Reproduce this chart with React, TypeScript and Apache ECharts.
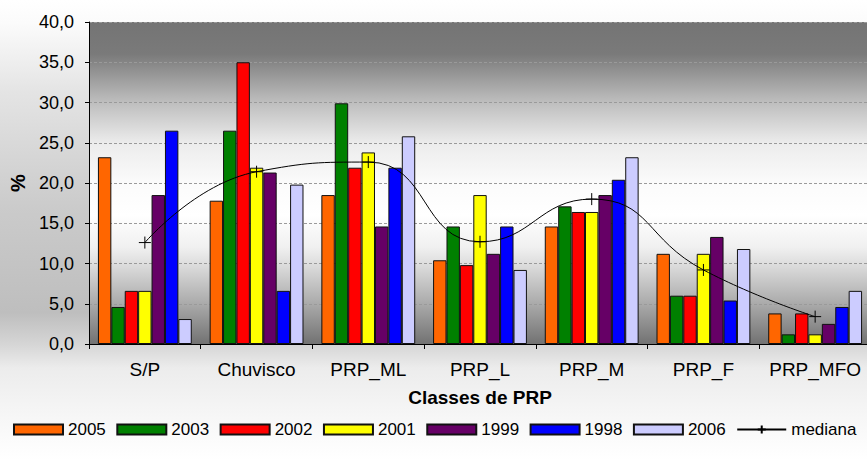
import React, { useEffect, useRef } from "react";
import * as echarts from "echarts";

const categories = ["S/P", "Chuvisco", "PRP_ML", "PRP_L", "PRP_M", "PRP_F", "PRP_MFO"];
const s2005 = [23.2, 17.8, 18.5, 10.4, 14.6, 11.2, 3.8];
const s2003 = [4.6, 26.5, 29.9, 14.6, 17.1, 6.0, 1.2];
const s2002 = [6.6, 35.0, 21.9, 9.8, 16.4, 6.0, 3.8];
const s2001 = [6.6, 21.9, 23.8, 18.5, 16.4, 11.2, 1.2];
const s1999 = [18.5, 21.3, 14.6, 11.2, 18.5, 13.3, 2.5];
const s1998 = [26.5, 6.6, 21.9, 14.6, 20.4, 5.4, 4.6];
const s2006 = [3.1, 19.8, 25.8, 9.2, 23.2, 11.8, 6.6];
const mediana = [12.6, 21.4, 22.6, 12.7, 18.0, 9.2, 3.4];

const barSeries = [
  { name: "2005", data: s2005, color: "#FF6600" },
  { name: "2003", data: s2003, color: "#008000" },
  { name: "2002", data: s2002, color: "#FF0000" },
  { name: "2001", data: s2001, color: "#FFFF00" },
  { name: "1999", data: s1999, color: "#660066" },
  { name: "1998", data: s1998, color: "#0000FF" },
  { name: "2006", data: s2006, color: "#CCCCFF" },
];

const FONT = "'Liberation Sans', Arial, sans-serif";

export default function App() {
  const ref = useRef<HTMLDivElement>(null);
  useEffect(() => {
    if (!ref.current) return;
    const chart = echarts.init(ref.current, null, { renderer: "svg" });
    const plotBg = new echarts.graphic.LinearGradient(0, 0, 0, 1, [
      { offset: 0, color: "#747474" },
      { offset: 0.1, color: "#7a7a7a" },
      { offset: 0.24, color: "#bababa" },
      { offset: 0.376, color: "#ececec" },
      { offset: 0.5, color: "#fbfbfb" },
      { offset: 0.6, color: "#ffffff" },
      { offset: 0.7, color: "#f0f0f0" },
      { offset: 0.755, color: "#dcdcdc" },
      { offset: 0.88, color: "#a8a8a8" },
      { offset: 1, color: "#727272" },
    ]);
    const option: any = {
      animation: false,
      textStyle: { fontFamily: FONT },
      grid: {
        left: 89,
        top: 22,
        width: 782,
        height: 322,
        show: true,
        backgroundColor: plotBg,
        borderWidth: 0,
        containLabel: false,
        outerBoundsMode: "none",
      },
      legend: {
        left: 13,
        top: 421,
        width: 2000,
        itemWidth: 49,
        itemHeight: 10,
        itemGap: 10.5,
        padding: 0,
        textStyle: { fontSize: 17, color: "#000", fontFamily: FONT },
        data: [...barSeries.map((s) => ({ name: s.name, icon: "rect" })), { name: "mediana" }],
      },
      xAxis: {
        type: "category",
        data: categories,
        name: "Classes de PRP",
        nameLocation: "middle",
        nameGap: 44,
        nameTextStyle: { fontSize: 19, fontWeight: "bold", color: "#000", fontFamily: FONT },
        axisLine: { lineStyle: { color: "#000", width: 1 } },
        axisTick: { show: true, length: 5, lineStyle: { color: "#000" } },
        axisLabel: { fontSize: 19, color: "#000", margin: 16, interval: 0, fontFamily: FONT },
      },
      yAxis: {
        type: "value",
        min: 0,
        max: 40,
        interval: 5,
        name: "%",
        nameLocation: "middle",
        nameGap: 58,
        nameRotate: 90,
        nameTextStyle: { fontSize: 20, fontWeight: "bold", color: "#000", fontFamily: FONT },
        axisLine: { show: true, lineStyle: { color: "#000", width: 1 } },
        axisTick: { show: true, length: 4, lineStyle: { color: "#000" } },
        axisLabel: {
          fontSize: 18,
          color: "#000",
          margin: 15,
          fontFamily: FONT,
          formatter: (v: number) => v.toFixed(1).replace(".", ","),
        },
        splitLine: { show: true, lineStyle: { color: "#9a9a9a", type: [3, 2], width: 1 } },
      },
      series: [
        ...barSeries.map((s) => ({
          name: s.name,
          type: "bar",
          data: s.data,
          barGap: "0%",
          barCategoryGap: "16%",
          itemStyle: { color: s.color, borderColor: "#111", borderWidth: 1 },
        })),
        {
          name: "mediana",
          type: "line",
          data: mediana,
          smooth: 0.5,
          symbol: "path://M0,6L12,6M6,0L6,12",
          symbolSize: 12,
          showSymbol: true,
          lineStyle: { color: "#000", width: 1 },
          itemStyle: { color: "none", borderColor: "#000", borderWidth: 1 },
          z: 5,
        },
      ],
    };
    chart.setOption(option);
    return () => chart.dispose();
  }, []);
  return (
    <div
      ref={ref}
      style={{
        position: "fixed",
        left: 0,
        top: 0,
        width: 867,
        height: 460,
        background:
          "linear-gradient(to bottom, #ffffff 0%, #fbfbfb 5%, #e4e4e4 20%, #cbcbcb 45%, #bebebe 68%, #d6d6d6 75%, #ececec 80%, #f6f6f6 90%, #ffffff 100%)",
      }}
    />
  );
}
